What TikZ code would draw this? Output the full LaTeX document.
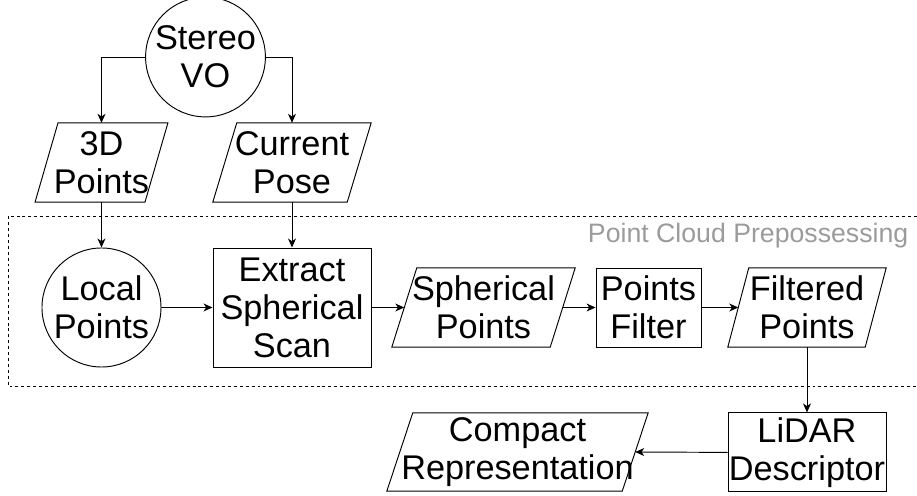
\documentclass[tikz,border=0pt]{standalone}
\usepackage{fontspec}
\setmainfont{Liberation Sans}
\usepackage{tikz}
\usetikzlibrary{arrows.meta,positioning,calc}
\definecolor{labelgray}{RGB}{155,155,155}

\begin{document}
\begin{tikzpicture}[
    base/.style={inner sep=0.5pt, align=center, font=\fontsize{32.5}{36}\selectfont},
    box/.style={base, rectangle, draw, line width=0.9pt},
    io/.style={base, rectangle, minimum height=2.633cm},
    circ/.style={base, circle, draw, line width=0.9pt},
    arrow/.style={-{Stealth[length=8.5pt,width=7.5pt,inset=2.5pt]}, line width=0.9pt}
]
\useasboundingbox (0,0) rectangle (30.567,-16.533);

% processing region
\draw[line width=0.8pt, dash pattern=on 2.8pt off 2.8pt] (30.567,-7.2) -- (0.267,-7.2) -- (0.267,-12.867) -- (30.567,-12.867);
\node[anchor=east, text=labelgray, font=\fontsize{25.3}{30}\selectfont] (region) at (30.4,-7.87) {Point Cloud Prepossessing};

\node[circ, minimum size=3.53cm] (vo) at (6.85,-1.9) {Stereo\\VO};
\node[io, minimum width=3.65cm] (pts) at (3.383,-5.417) {3D\\Points};
\node[io, minimum width=4.467cm] (pose) at (9.733,-5.417) {Current\\Pose};

\node[circ, minimum size=3.967cm] (local) at (3.383,-10.25) {Local\\Points};
\node[box, minimum width=5.267cm, minimum height=3.967cm] (extract) at (9.733,-10.25) {Extract\\Spherical\\Scan};
\node[io, minimum width=5.267cm] (sph) at (16.117,-10.25) {Spherical\\Points};
\node[box, minimum width=3.5cm, minimum height=2.633cm] (filter) at (21.617,-10.25) {Points\\Filter};
\node[io, minimum width=4.567cm] (filt) at (26.9,-10.25) {Filtered\\Points};

\node[box, minimum width=5.267cm, minimum height=2.633cm] (lidar) at (26.9,-15.08) {LiDAR\\Descriptor};
\node[io, minimum width=7.833cm, minimum height=2.6cm] (comp) at (17.25,-15.067) {Compact\\Representation};

% slanted outlines of the data nodes
\foreach \n/\s in {pts/0.383, pose/0.4, sph/0.417, filt/0.35, comp/0.433}
  \draw[line width=0.9pt] ([xshift=\s cm]\n.north west) -- ([xshift=\s cm]\n.north east)
    -- ([xshift=-\s cm]\n.south east) -- ([xshift=-\s cm]\n.south west) -- cycle;

\draw[arrow] (vo.west) -| (pts.north);
\draw[arrow] (vo.east) -| (pose.north);
\draw[arrow] (pts.south) -- (local.north);
\draw[arrow] (pose.south) -- (extract.north);
\draw[arrow] (local.east) -- (extract.west);
\draw[arrow] (extract.east) -- (sph.west);
\draw[arrow] (sph.east) -- (filter.west);
\draw[arrow] (filter.east) -- (filt.west);
\draw[arrow] (filt.south) -- (lidar.north);
\draw[arrow] (lidar.west) -- (comp.east);
\end{tikzpicture}
\end{document}
